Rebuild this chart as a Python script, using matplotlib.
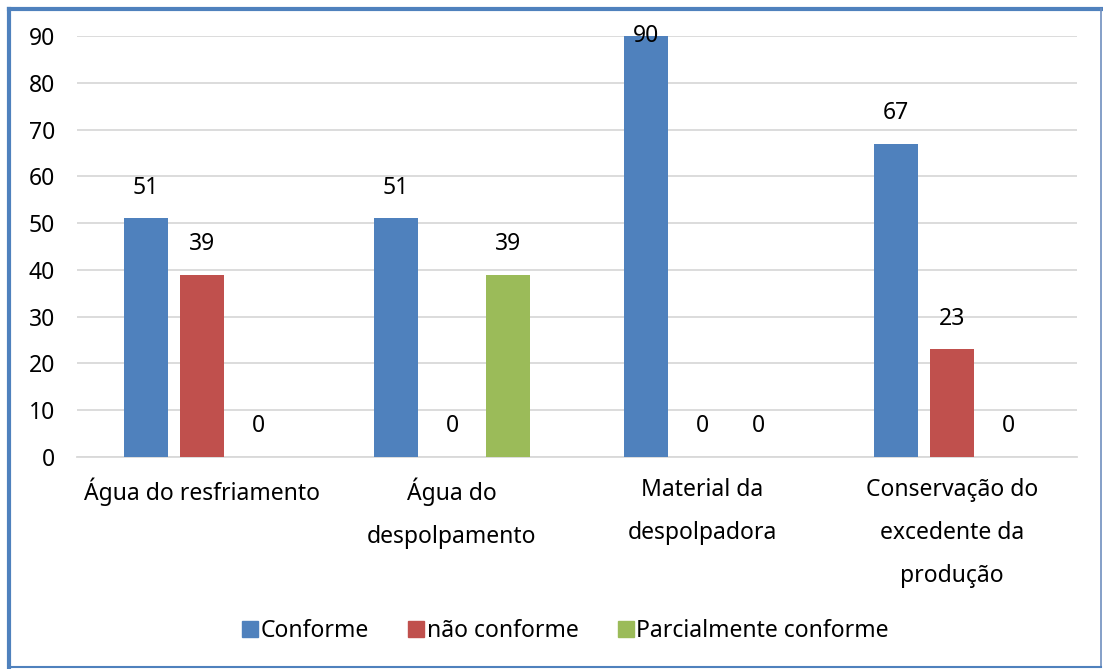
import matplotlib
matplotlib.use("Agg")
import matplotlib.pyplot as plt
import numpy as np
from matplotlib.lines import Line2D

categories = ["Água do resfriamento", "Água do\ndespolpamento", "Material da\ndespolpadora",
              "Conservação do\nexcedente da\nprodução"]
series_names = ["Conforme", "não conforme", "Parcialmente conforme"]
conforme = [51, 51, 90, 67]
nao_conforme = [39, 0, 0, 23]
parcial = [0, 39, 0, 0]
colors = ["#4f81bd", "#c0504d", "#9bbb59"]
yticks = [0, 10, 20, 30, 40, 50, 60, 70, 80, 90]

plt.rcParams['font.family'] = ['Noto Sans', 'DejaVu Sans']
FS = 16.5

W, H = 1103, 669
fig = plt.figure(figsize=(W / 100, H / 100), dpi=100)
ax = fig.add_axes([77 / W, 1 - 457 / H, 1000 / W, 421 / H])

x = np.arange(len(categories))
bw = 44 / 250
off = 56 / 250
for i, (vals, c, name) in enumerate(zip([conforme, nao_conforme, parcial], colors, series_names)):
    pos = x + (i - 1) * off
    ax.bar(pos, vals, width=bw, color=c, label=name, zorder=3)
    for p, v in zip(pos, vals):
        ax.text(p, min(v + 6.6, 90), f"{v}", ha="center", va="center", fontsize=FS,
                color="#000000", zorder=4, clip_on=False)

ax.set_xlim(-0.5, len(categories) - 0.5)
ax.set_ylim(0, 90)
ax.set_yticks(yticks)
ax.set_yticklabels([str(t) for t in yticks], fontsize=FS)
ax.set_xticks(x)
ax.set_xticklabels(categories, fontsize=FS, linespacing=2.05, va="top")
ax.tick_params(axis="both", length=0)
ax.tick_params(axis="y", pad=16)
ax.tick_params(axis="x", pad=15)
ax.grid(axis="y", color="#d9d9d9", linewidth=1.3, zorder=0)
for s in ["top", "right", "left"]:
    ax.spines[s].set_visible(False)
ax.spines["bottom"].set_color("#d9d9d9")
ax.spines["bottom"].set_linewidth(1.3)

handles = [Line2D([0], [0], marker="s", linestyle="none", markersize=11,
                  markerfacecolor=c, markeredgecolor=c) for c in colors]
fig.legend(handles, series_names, loc="center", bbox_to_anchor=(561 / W, 1 - 631 / H),
           ncol=3, frameon=False, fontsize=FS, handletextpad=-0.28, columnspacing=1.3,
           handlelength=1.5)

# border
fig.add_artist(Line2D([9 / W, 9 / W], [1 - 667 / H, 1 - 9 / H], transform=fig.transFigure,
                      color="#4f81bd", linewidth=3))
fig.add_artist(Line2D([9 / W, 1101 / W], [1 - 9 / H, 1 - 9 / H], transform=fig.transFigure,
                      color="#4f81bd", linewidth=3))
fig.add_artist(Line2D([1101 / W, 1101 / W], [1 - 667 / H, 1 - 9 / H], transform=fig.transFigure,
                      color="#6f8fbf", linewidth=1.2))
fig.add_artist(Line2D([9 / W, 1101 / W], [1 - 667 / H, 1 - 667 / H], transform=fig.transFigure,
                      color="#4f81bd", linewidth=1.5))

fig.savefig("out.png", dpi=100)
